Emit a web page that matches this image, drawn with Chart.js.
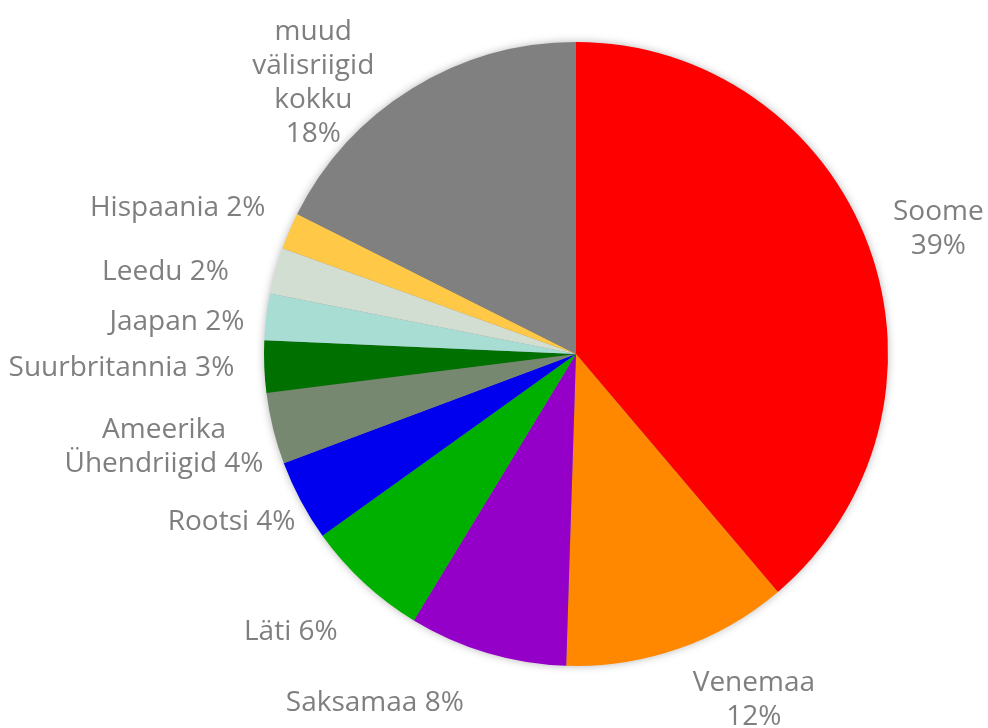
<!DOCTYPE html>
<html><head><meta charset="utf-8">
<script src="https://cdn.jsdelivr.net/npm/chart.js@4"></script>
<style>html,body{margin:0;padding:0;background:#fff;} #wrap{width:988px;height:728px;position:relative;}</style>
</head><body><div id="wrap"><canvas id="c"></canvas></div>
<script>
const categories = ['Soome', 'Venemaa', 'Saksamaa', 'Läti', 'Rootsi', 'Ameerika\nÜhendriigid', 'Suurbritannia', 'Jaapan', 'Leedu', 'Hispaania', 'muud\nvälisriigid\nkokku'];
const shares = [38.8, 11.7, 8.2, 6.4, 4.2, 3.7, 2.7, 2.4, 2.4, 1.9, 17.6];
const sliceColors = ['#ff0000', '#ff8800', '#9400c8', '#00b000', '#0000ee', '#778870', '#007000', '#a8ddd4', '#d3ded3', '#ffc846', '#808080'];

const pieShadow = {
  id: 'pieShadow',
  beforeDatasetsDraw(chart) {
    const arc = chart.getDatasetMeta(0).data[0];
    const p = arc.getProps(['x', 'y', 'outerRadius'], true);
    const ctx = chart.ctx;
    ctx.save();
    ctx.beginPath();
    ctx.arc(p.x, p.y, p.outerRadius - 1, 0, Math.PI * 2);
    ctx.shadowColor = 'rgba(0,0,0,0.35)';
    ctx.shadowBlur = 10;
    ctx.fillStyle = '#888';
    ctx.fill();
    ctx.restore();
  }
};

const outsideLabels = {
  id: 'outsideLabels',
  afterDatasetsDraw(chart, args, opts) {
    const ctx = chart.ctx;
    const meta = chart.getDatasetMeta(0);
    const total = shares.reduce((a, b) => a + b, 0);
    ctx.save();
    ctx.font = opts.font;
    ctx.fillStyle = opts.color;
    ctx.textAlign = 'center';
    ctx.textBaseline = 'middle';
    meta.data.forEach((arc, i) => {
      const p = arc.getProps(['x', 'y', 'startAngle', 'endAngle', 'outerRadius'], true);
      const mid = (p.startAngle + p.endAngle) / 2;
      const dx = Math.cos(mid), dy = Math.sin(mid);
      const ax = p.x + dx * (p.outerRadius + opts.gap);
      const ay = p.y + dy * (p.outerRadius + opts.gap);
      const pct = Math.round(shares[i] / total * 100) + '%';
      const nameLines = categories[i].split('\n');
      let lines;
      if (opts.pctBreak[i]) lines = [...nameLines, pct];
      else { nameLines[nameLines.length - 1] += ' ' + pct; lines = nameLines; }
      const w = Math.max(...lines.map(l => ctx.measureText(l).width));
      const h = lines.length * opts.lineHeight;
      let cx, cy;
      if (Math.abs(dx) >= 0.5) { cx = dx > 0 ? ax + w / 2 : ax - w / 2; cy = ay; }
      else { cx = ax; cy = dy > 0 ? ay + h / 2 : ay - h / 2; }
      cx += opts.nudge[i][0];
      cy += opts.nudge[i][1];
      lines.forEach((l, k) => ctx.fillText(l, cx, cy - h / 2 + opts.lineHeight * (k + 0.5)));
    });
    ctx.restore();
  }
};

new Chart(document.getElementById('c'), {
  type: 'pie',
  data: {
    labels: categories,
    datasets: [{
      data: shares,
      backgroundColor: sliceColors,
      borderWidth: 0,
      hoverOffset: 0
    }]
  },
  options: {
    responsive: true,
    maintainAspectRatio: false,
    animation: false,
    events: [],
    layout: { padding: { left: 264, right: 100, top: 42, bottom: 62 } },
    plugins: {
      legend: { display: false },
      tooltip: { enabled: false },
      outsideLabels: {
        font: '28px "Open Sans"',
        color: '#7f7f7f',
        gap: 15,
        lineHeight: 34,
        pctBreak: [true, true, false, false, false, false, false, false, false, false, true],
        nudge: [[10, -12], [70, 3], [-108, 19], [-16, 38], [8, 14], [5, 15], [-15, 1], [-7, 7], [-32, 5], [-10, -17], [-30, 7]]
      }
    }
  },
  plugins: [pieShadow, outsideLabels]
});
</script>
</body></html>
